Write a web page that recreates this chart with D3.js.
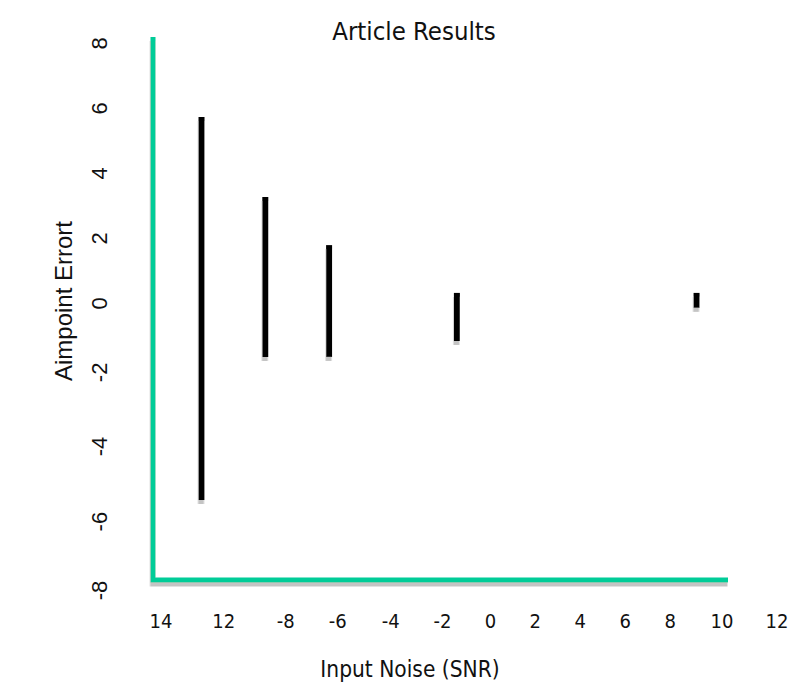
<!DOCTYPE html>
<html>
<head>
<meta charset="utf-8">
<script src="https://cdn.jsdelivr.net/npm/d3@7"></script>
<style>
  body { margin: 0; background: #fff; }
  .tahoma { font-family: "DejaVu Sans Condensed", "DejaVu Sans", sans-serif; font-stretch: condensed; fill: #111; }
  .arial { font-family: "Liberation Sans", Arial, sans-serif; fill: #111; }
</style>
</head>
<body>
<svg id="chart" width="796" height="689"></svg>
<script>
// error bars: SNR position, upper and lower aimpoint error
var snr = [-12.84, -10.0, -7.16, -1.47, 9.2];
var errHigh = [5.72, 3.26, 1.78, 0.31, 0.31];
var errLow = [-6.06, -1.66, -1.66, -1.17, -0.15];

// tick labels as printed, and where they sit in data units
var xTickLabels = ["14", "12", "-8", "-6", "-4", "-2", "0", "2", "4", "6", "8", "10", "12"];
var xTickAt = [-14.67, -11.87, -9.11, -6.8, -4.44, -2.13, 0, 2, 4, 6, 8, 10.31, 12.76];
var yTickLabels = ["8", "6", "4", "2", "0", "-2", "-4", "-6", "-8"];
var yTickAt = [8, 6, 4, 2, 0, -2.12, -4.4, -6.71, -8.83];

var svg = d3.select("#chart"),
    width = +svg.attr("width"), height = +svg.attr("height"),
    plotLeft = 153, plotRight = 728, plotTop = 38, plotBottom = 580;

var x = d3.scaleLinear().domain([-15, 10.6]).range([plotLeft, plotRight]);
var y = d3.scaleLinear().domain([-8.52, 8.15]).range([plotBottom, plotTop]);

// soft grey shadow under the axis lines and bars
var f = svg.append("defs").append("filter").attr("id", "shadow")
    .attr("filterUnits", "userSpaceOnUse")
    .attr("x", 0).attr("y", 0).attr("width", width).attr("height", height);
f.append("feDropShadow")
    .attr("dx", -0.5).attr("dy", 4).attr("stdDeviation", 0.7)
    .attr("flood-color", "#c4c4c4").attr("flood-opacity", 1);

// title and axis titles
svg.append("text").attr("class", "tahoma")
    .attr("x", 414).attr("y", 40)
    .attr("text-anchor", "middle").style("font-size", "25.5px")
    .text("Article Results");

svg.append("text").attr("class", "tahoma")
    .attr("x", 410).attr("y", 677)
    .attr("text-anchor", "middle").style("font-size", "22.5px")
    .text("Input Noise (SNR)");

svg.append("text").attr("class", "arial")
    .attr("transform", "translate(72,301) rotate(-90)")
    .attr("text-anchor", "middle").style("font-size", "24px")
    .text("Aimpoint Errort");

// x axis labels
var gx = svg.append("g")
    .attr("transform", "translate(0," + plotBottom + ")")
    .call(d3.axisBottom(x).tickValues(xTickAt)
      .tickFormat(function(d, i) { return xTickLabels[i]; })
      .tickSize(0));
gx.select(".domain").remove();
gx.selectAll("text")
    .attr("class", "tahoma")
    .attr("y", 48).attr("dy", 0)
    .style("font-size", "20px");

// y axis labels, rotated
var gy = svg.append("g")
    .attr("transform", "translate(" + plotLeft + ",0)")
    .call(d3.axisLeft(y).tickValues(yTickAt)
      .tickFormat(function(d, i) { return yTickLabels[i]; })
      .tickSize(0));
gy.select(".domain").remove();
gy.selectAll("text")
    .attr("class", "arial")
    .attr("x", null).attr("dy", null)
    .attr("text-anchor", "middle")
    .attr("transform", "translate(-46,0) rotate(-90)")
    .style("font-size", "22px");

// green axis lines
svg.append("path")
    .attr("d", "M" + plotLeft + "," + (plotTop - 1) + "V" + plotBottom + "H" + plotRight)
    .attr("fill", "none")
    .attr("stroke", "#05cc98")
    .attr("stroke-width", 5)
    .attr("filter", "url(#shadow)");

// error bars
svg.selectAll(".bar")
    .data(snr)
  .enter().append("line")
    .attr("class", "bar")
    .attr("x1", function(d) { return x(d); })
    .attr("x2", function(d) { return x(d); })
    .attr("y1", function(d, i) { return y(errHigh[i]); })
    .attr("y2", function(d, i) { return y(errLow[i]); })
    .attr("stroke", "#000")
    .attr("stroke-width", 6)
    .attr("filter", "url(#shadow)");
</script>
</body>
</html>
